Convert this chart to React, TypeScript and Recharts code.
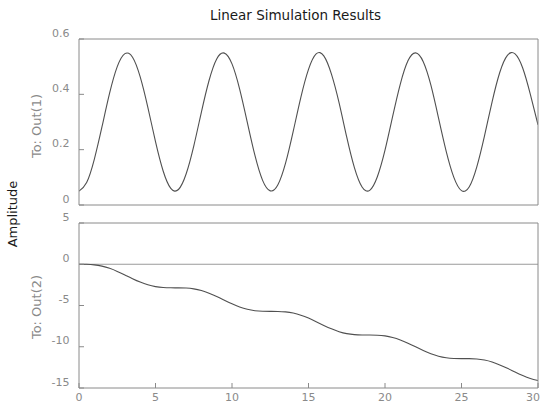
import React from 'react';
import { LineChart, Line, XAxis, YAxis, ReferenceLine } from 'recharts';

// time axis (s)
const time = [
  0, 0.5, 1, 1.5, 2, 2.5, 3, 3.5, 4, 4.5, 5, 5.5, 6, 6.5, 7, 7.5, 8, 8.5, 9, 9.5,
  10, 10.5, 11, 11.5, 12, 12.5, 13, 13.5, 14, 14.5, 15, 15.5, 16, 16.5, 17, 17.5, 18, 18.5, 19, 19.5,
  20, 20.5, 21, 21.5, 22, 22.5, 23, 23.5, 24, 24.5, 25, 25.5, 26, 26.5, 27, 27.5, 28, 28.5, 29, 29.5, 30,
];

// To: Out(1)
const out1 = [
  0.05, 0.081, 0.165, 0.282, 0.404, 0.5, 0.547, 0.534, 0.463, 0.353, 0.229, 0.123, 0.06, 0.056, 0.112, 0.213,
  0.336, 0.45, 0.528, 0.549, 0.51, 0.419, 0.299, 0.179, 0.089, 0.051, 0.073, 0.151, 0.266, 0.389, 0.49,
  0.546, 0.539, 0.473, 0.369, 0.245, 0.135, 0.065, 0.053, 0.102, 0.198, 0.32, 0.437, 0.521, 0.55, 0.518,
  0.433, 0.314, 0.194, 0.1, 0.052, 0.065, 0.138, 0.249, 0.373, 0.479, 0.541, 0.546, 0.495, 0.4, 0.29,
];

// To: Out(2)
const out2 = [
  0, -0.009, -0.072, -0.229, -0.496, -0.865, -1.301, -1.752, -2.164, -2.492, -2.711, -2.824, -2.857, -2.86,
  -2.886, -2.986, -3.19, -3.504, -3.908, -4.357, -4.798, -5.178, -5.46, -5.631, -5.704, -5.718, -5.724,
  -5.777, -5.919, -6.172, -6.529, -6.964, -7.411, -7.831, -8.172, -8.41, -8.532, -8.571, -8.577, -8.597,
  -8.685, -8.874, -9.174, -9.568, -10.014, -10.459, -10.85, -11.147, -11.332, -11.417, -11.435, -11.441,
  -11.483, -11.61, -11.85, -12.208, -12.617, -13.069, -13.497, -13.853, -14.1,
];

const xTicks = [0, 5, 10, 15, 20, 25, 30];
const out1Ticks = [0, 0.2, 0.4, 0.6];
const out2Ticks = [-15, -10, -5, 0, 5];

const data = time.map((t, i) => ({ t, out1: out1[i], out2: out2[i] }));

const FONT = '"DejaVu Sans", "Liberation Sans", Arial, sans-serif';
const BOX = '#8a8a8a';
const TEXT_GRAY = '#8a8a8a';
const CURVE = '#505050';

const YTick = (p: any) => (
  <text x={p.x - 14.5} y={p.y - 6} textAnchor="end" dominantBaseline="central"
    fill={TEXT_GRAY} fontSize={11} fontFamily={FONT}>
    {String(p.payload.value)}
  </text>
);

const XTick = (p: any) => (
  <text x={p.x} y={p.y + 14.5} textAnchor="middle" dominantBaseline="central"
    fill={TEXT_GRAY} fontSize={11} fontFamily={FONT}>
    {String(p.payload.value)}
  </text>
);

const boxAxis = { stroke: BOX, strokeWidth: 1 };

function Panel({ dataKey, domain, yTicks, height, marginTop, bottomHeight, showX, zeroLine }: any) {
  return (
    <LineChart width={541} height={height} data={data}
      margin={{ top: marginTop, right: 2, left: 39, bottom: 0 }}>
      <XAxis xAxisId="b" dataKey="t" type="number" domain={[0, 30]} ticks={xTicks}
        height={bottomHeight} tickSize={-5} tickMargin={0} allowDataOverflow
        axisLine={boxAxis} tickLine={boxAxis} tick={showX ? XTick : false} />
      <XAxis xAxisId="top" dataKey="t" type="number" orientation="top" domain={[0, 30]} ticks={xTicks}
        height={1} tickSize={-5} allowDataOverflow axisLine={boxAxis} tickLine={boxAxis} tick={false} />
      <YAxis yAxisId="l" type="number" domain={domain} ticks={yTicks} width={40}
        tickSize={-5} tickMargin={0} allowDataOverflow
        axisLine={boxAxis} tickLine={boxAxis} tick={YTick} />
      <YAxis yAxisId="r" type="number" orientation="right" domain={domain} ticks={yTicks} width={1}
        tickSize={-5} allowDataOverflow axisLine={boxAxis} tickLine={boxAxis} tick={false} />
      {zeroLine && (
        <ReferenceLine xAxisId="b" yAxisId="l" y={0} stroke="#9a9a9a" strokeWidth={1} />
      )}
      <Line xAxisId="b" yAxisId="l" dataKey={dataKey} type="natural" dot={false}
        stroke={CURVE} strokeWidth={1.1} isAnimationActive={false} />
    </LineChart>
  );
}

export default function App() {
  return (
    <div style={{ position: 'absolute', left: 0, top: 0, width: 541, height: 404, background: '#fff', overflow: 'hidden' }}>
      <div style={{ position: 'absolute', left: 0, top: 0 }}>
        <Panel dataKey="out1" domain={[0, 0.6]} yTicks={out1Ticks} height={215}
          marginTop={38} bottomHeight={10} showX={false} zeroLine={false} />
      </div>
      <div style={{ position: 'absolute', left: 0, top: 200 }}>
        <Panel dataKey="out2" domain={[-15, 5]} yTicks={out2Ticks} height={204}
          marginTop={22} bottomHeight={16} showX zeroLine />
      </div>
      <svg width={541} height={404} style={{ position: 'absolute', left: 0, top: 0, pointerEvents: 'none' }}>
        <text x={295.5} y={15} textAnchor="middle" dominantBaseline="central"
          fontFamily={FONT} fontSize={13.5} fill="#1a1a1a">Linear Simulation Results</text>
        <text x={12} y={214} textAnchor="middle" dominantBaseline="central" transform="rotate(-90 12 214)"
          fontFamily={FONT} fontSize={13} fill="#1a1a1a">Amplitude</text>
        <text x={36.5} y={126} textAnchor="middle" dominantBaseline="central" transform="rotate(-90 36.5 126)"
          fontFamily={FONT} fontSize={13} fill={TEXT_GRAY}>To: Out(1)</text>
        <text x={36.5} y={307} textAnchor="middle" dominantBaseline="central" transform="rotate(-90 36.5 307)"
          fontFamily={FONT} fontSize={13} fill={TEXT_GRAY}>To: Out(2)</text>
      </svg>
    </div>
  );
}
